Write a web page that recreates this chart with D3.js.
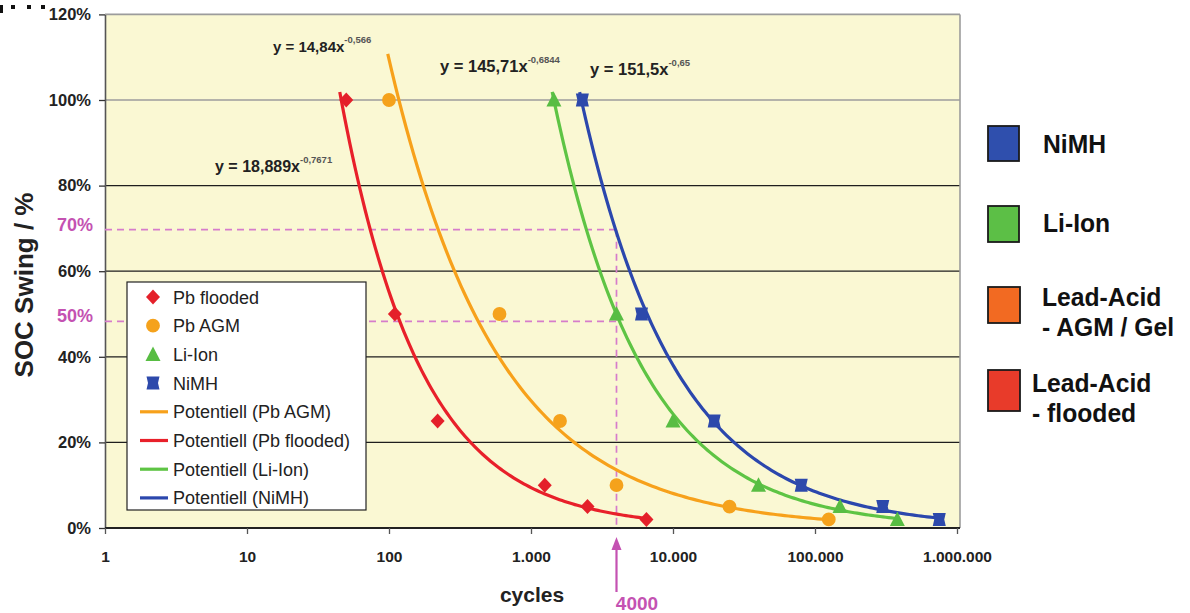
<!DOCTYPE html>
<html><head><meta charset="utf-8">
<script src="https://cdn.jsdelivr.net/npm/d3@7"></script>
<style>
html,body{margin:0;padding:0;background:#fff;}
svg{display:block;font-family:"Liberation Sans",Arial,Helvetica,sans-serif;}
</style>
</head><body>
<svg id="chart" width="1190" height="613"></svg>
<script>
// ---------- data ----------
const xTickValues = [1, 10, 100, 1000, 10000, 100000, 1000000];
const xTickLabels = ["1", "10", "100", "1.000", "10.000", "100.000", "1.000.000"];
const yTickValues = [0, 20, 40, 60, 80, 100, 120];

const seriesNames = ["Pb flooded", "Pb AGM", "Li-Ion", "NiMH"];
const socValues = [100, 50, 25, 10, 5, 2];
const pbFloodedCycles = [50, 110, 220, 1250, 2500, 6500];
const pbAgmCycles = [100, 600, 1600, 4000, 25000, 125000];
const liIonCycles = [1450, 4000, 10000, 40000, 150000, 380000];
const nimhCycles = [2300, 6000, 19500, 80000, 300000, 750000];

// power trendlines "Potentiell": y = a * x^b (y as fraction), coefficients as printed on the chart
const trendNames = ["Potentiell (Pb AGM)", "Potentiell (Pb flooded)", "Potentiell (Li-Ion)", "Potentiell (NiMH)"];
const trendA = [14.84, 18.889, 145.71, 151.5];
const trendB = [-0.566, -0.7671, -0.6844, -0.65];
const trendFrom = [98, 45, 1410, 2200];
const trendTo = [125000, 6500, 380000, 750000];
const trendMain = ["y = 14,84x", "y = 18,889x", "y = 145,71x", "y = 151,5x"];
const trendExp = ["-0,566", "-0,7671", "-0,6844", "-0,65"];

const refCycles = 4000;
const refLabels = ["70%", "50%"];
const refValues = [69.7, 48.3];

const rightLegendLines = [["NiMH"], ["Li-Ion"], ["Lead-Acid", "- AGM / Gel"], ["Lead-Acid", "- flooded"]];

// ---------- styles ----------
const seriesColors = ["#e4202a", "#f5a21c", "#58bd43", "#2d49ab"];
const trendColors = ["#f7a11b", "#e8202a", "#5ec444", "#2b47ad"];
const rightColors = ["#2f4fad", "#5cbf46", "#f26a22", "#e83b2a"];
const magenta = "#c452b2";

const svg = d3.select("#chart");
const L = 105, R = 960;
const x = d3.scaleLog().domain([1, 1e6]).range([105, 957]);
const y = d3.scaleLinear().domain([0, 120]).range([528, 14.4]);

// decoration marks top-left
svg.append("rect").attr("x", 0).attr("y", 5).attr("width", 3).attr("height", 8).attr("fill", "#111");
[11, 27, 41].forEach(px => svg.append("rect").attr("x", px).attr("y", 5).attr("width", 4).attr("height", 4).attr("fill", "#111"));

// plot background
svg.append("rect").attr("x", L).attr("y", y(120)).attr("width", R - L).attr("height", y(0) - y(120))
  .attr("fill", "#faf8d3");

// gridlines
yTickValues.filter(v => v > 0).forEach(v => {
  svg.append("line").attr("x1", L).attr("x2", R).attr("y1", y(v)).attr("y2", y(v))
    .attr("stroke", v >= 100 ? "#9c9c9c" : "#1e1e1e").attr("stroke-width", v >= 100 ? 1.6 : 1.2);
});
svg.append("line").attr("x1", R).attr("x2", R).attr("y1", y(120)).attr("y2", y(0))
  .attr("stroke", "#9c9c9c").attr("stroke-width", 1.6);

// axes
const yAxis = svg.append("g").attr("transform", `translate(${L},0)`)
  .call(d3.axisLeft(y).tickValues(yTickValues).tickFormat(d => d + "%").tickSize(6).tickSizeOuter(0).tickPadding(8));
yAxis.selectAll("text").attr("font-size", 16.5).attr("font-weight", "bold").attr("fill", "#222")
  .attr("font-family", "'Liberation Sans',Arial,sans-serif");
yAxis.selectAll("line").attr("stroke", "#333").attr("stroke-width", 1.3);
yAxis.select(".domain").attr("stroke", "#555").attr("stroke-width", 1.6);

const xAxis = svg.append("g").attr("transform", `translate(0,${y(0)})`)
  .call(d3.axisBottom(x).tickValues(xTickValues).tickFormat((d, i) => xTickLabels[i]).tickSize(6).tickSizeOuter(0).tickPadding(17));
xAxis.selectAll("text").attr("font-size", 15.5).attr("font-weight", "bold").attr("fill", "#222")
  .attr("font-family", "'Liberation Sans',Arial,sans-serif");
xAxis.selectAll("line").attr("stroke", "#555").attr("stroke-width", 1.3);
xAxis.select(".domain").attr("stroke", "#222").attr("stroke-width", 1.8).attr("d", `M${L},0H${R}`);

// reference dashed lines
refValues.forEach((v, i) => {
  svg.append("line").attr("x1", L).attr("x2", x(refCycles)).attr("y1", y(v)).attr("y2", y(v))
    .attr("stroke", "#d67ccb").attr("stroke-width", 1.7).attr("stroke-dasharray", "7,5");
  svg.append("text").attr("x", 93).attr("y", y(v) + 1).attr("text-anchor", "end")
    .attr("font-size", 18).attr("font-weight", "bold").attr("fill", magenta).text(refLabels[i]);
});
svg.append("line").attr("x1", x(refCycles)).attr("x2", x(refCycles)).attr("y1", y(refValues[0])).attr("y2", y(0))
  .attr("stroke", "#d67ccb").attr("stroke-width", 1.7).attr("stroke-dasharray", "7,5");

// trendlines
const line = d3.line().x(d => x(d[0])).y(d => y(d[1]));
trendA.forEach((a, i) => {
  const n = 120;
  const pts = d3.range(n + 1).map(k => {
    const cx = trendFrom[i] * Math.pow(trendTo[i] / trendFrom[i], k / n);
    return [cx, a * Math.pow(cx, trendB[i]) * 100];
  });
  svg.append("path").attr("d", line(pts)).attr("fill", "none")
    .attr("stroke", trendColors[i]).attr("stroke-width", 3.2).attr("stroke-linejoin", "round");
});

// markers
const markerPaths = [
  "M0,-7.5L7,0L0,7.5L-7,0Z",
  d3.symbol().type(d3.symbolCircle).size(150)(),
  "M0,-8L7.5,6.5L-7.5,6.5Z",
  "M-6.5,-6.5H6.5L5,0L6.5,6.5H-6.5L-5,0Z"
];
const allCycles = [pbFloodedCycles, pbAgmCycles, liIonCycles, nimhCycles];
allCycles.forEach((cyc, i) => {
  svg.append("g").selectAll("path").data(cyc.map((c, k) => [c, socValues[k]])).join("path")
    .attr("d", markerPaths[i])
    .attr("transform", d => `translate(${x(d[0])},${y(d[1])})`)
    .attr("fill", seriesColors[i]);
});

// equation labels
const eqPos = [[273, 52, 15], [215, 172, 16], [440, 72, 16.5], [590, 75, 16.5]];
trendMain.forEach((t, i) => {
  const tx = svg.append("text").attr("x", eqPos[i][0]).attr("y", eqPos[i][1])
    .attr("font-size", eqPos[i][2]).attr("font-weight", "bold").attr("fill", "#222");
  tx.append("tspan").text(t);
  tx.append("tspan").attr("dy", -9).attr("font-size", 9.5).attr("fill", "#555").text(trendExp[i]);
});

// left legend
const lg = svg.append("g");
lg.append("rect").attr("x", 127).attr("y", 282).attr("width", 239).attr("height", 228)
  .attr("fill", "#fff").attr("stroke", "#222").attr("stroke-width", 1.2);
const rowY = k => 297 + k * 28.7;
seriesNames.forEach((n, k) => {
  lg.append("path").attr("d", markerPaths[k]).attr("transform", `translate(153,${rowY(k)})`).attr("fill", seriesColors[k]);
  lg.append("text").attr("x", 173).attr("y", rowY(k) + 6.5).attr("font-size", 18).attr("fill", "#222").text(n);
});
trendNames.forEach((n, k) => {
  const r = rowY(k + 4);
  lg.append("line").attr("x1", 140).attr("x2", 168).attr("y1", r).attr("y2", r)
    .attr("stroke", trendColors[k]).attr("stroke-width", 3.2);
  lg.append("text").attr("x", 173).attr("y", r + 6.5).attr("font-size", 18).attr("fill", "#222").text(n);
});

// right legend
const sq = [[988, 126, 31, 35], [988, 206, 31, 36], [988, 287, 32, 36], [988, 370, 32, 41]];
const tpos = [[1043, [153]], [1043, [232]], [1042, [306, 336]], [1032, [392, 422]]];
rightLegendLines.forEach((lines, k) => {
  svg.append("rect").attr("x", sq[k][0]).attr("y", sq[k][1]).attr("width", sq[k][2]).attr("height", sq[k][3])
    .attr("fill", rightColors[k]).attr("stroke", "#1a1a1a").attr("stroke-width", 1.8);
  lines.forEach((t, j) => {
    svg.append("text").attr("transform", `translate(${tpos[k][0]},${tpos[k][1][j]}) scale(0.95,1)`)
      .attr("font-size", 26).attr("font-weight", "bold").attr("fill", "#111").text(t);
  });
});

// axis titles
svg.append("text").attr("transform", "translate(33,285) rotate(-90)").attr("text-anchor", "middle")
  .attr("font-size", 26).attr("font-weight", "bold").attr("fill", "#222").text("SOC Swing / %");
svg.append("text").attr("x", 532).attr("y", 602).attr("text-anchor", "middle")
  .attr("font-size", 21).attr("font-weight", "bold").attr("fill", "#222").text("cycles");

// 4000 arrow
const ax = x(refCycles);
svg.append("line").attr("x1", ax).attr("x2", ax).attr("y1", 592).attr("y2", 548)
  .attr("stroke", magenta).attr("stroke-width", 2.2);
svg.append("path").attr("d", `M${ax},537L${ax + 5},550L${ax - 5},550Z`).attr("fill", magenta);
svg.append("text").attr("x", 637).attr("y", 610).attr("text-anchor", "middle")
  .attr("font-size", 19).attr("font-weight", "bold").attr("fill", magenta).text("4000");
</script>
</body></html>
